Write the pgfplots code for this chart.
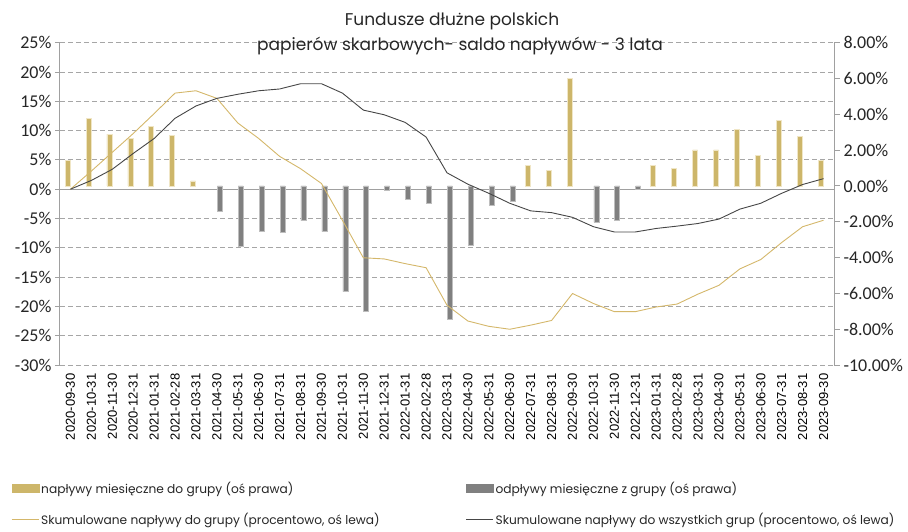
\documentclass[border=0pt]{standalone}
\usepackage{fontspec}
\usepackage{pgfplots}
\pgfplotsset{compat=1.18}
\setmainfont{Poppins}
\newfontfamily\tickfont{Carlito}
\newfontfamily\datefont{Liberation Sans}
\definecolor{goldc}{RGB}{205,182,106}
\definecolor{goldedge}{RGB}{240,230,198}
\definecolor{grayc}{RGB}{128,128,128}
\definecolor{grayedge}{RGB}{190,190,190}
\definecolor{lgold}{RGB}{212,183,106}
\definecolor{lgray}{RGB}{70,70,70}
\definecolor{gridc}{RGB}{166,166,166}
\definecolor{axc}{RGB}{160,160,160}
\begin{document}
\begin{tikzpicture}[x=1pt,y=1pt]
\path[use as bounding box] (0,0) rectangle (908,-532);
\pgfplotsset{
  common/.style={scale only axis, width=774pt, height=322.3pt,
    at={(60pt,-365pt)}, anchor=south west, xmin=-0.5, xmax=36.5},
}
% grid + left axis + dates
\begin{axis}[common, ymin=-30, ymax=25,
  ytick={-30,-25,...,25},
  yticklabels={-30\%,-25\%,-20\%,-15\%,-10\%,-5\%,0\%,5\%,10\%,15\%,20\%,25\%},
  yticklabel style={font=\tickfont\fontsize{18}{18}\selectfont, text=black!85},
  axis y line*=left, axis x line*=bottom,
  x axis line style={draw=none},
  y axis line style={axc, line width=1pt},
  xtick={0,...,36},
  xticklabels={2020-09-30,2020-10-31,2020-11-30,2020-12-31,2021-01-31,2021-02-28,2021-03-31,2021-04-30,2021-05-31,2021-06-30,2021-07-31,2021-08-31,2021-09-30,2021-10-31,2021-11-30,2021-12-31,2022-01-31,2022-02-28,2022-03-31,2022-04-30,2022-05-31,2022-06-30,2022-07-31,2022-08-31,2022-09-30,2022-10-31,2022-11-30,2022-12-31,2023-01-31,2023-02-28,2023-03-31,2023-04-30,2023-05-31,2023-06-30,2023-07-31,2023-08-31,2023-09-30},
  xticklabel style={rotate=90, anchor=east, font=\datefont\fontsize{13}{13}\selectfont, text=black},
  xtick style={draw=none},
  ytick style={axc, line width=1pt},
  tick align=outside, major tick length=5pt,
  ymajorgrids, major grid style={gridc, line width=0.9pt, dash pattern=on 5pt off 3pt},
  extra y ticks={0}, extra y tick labels={},
  extra y tick style={grid=major, major grid style={axc, solid, line width=1.2pt}, tick style={draw=none}},
]
\end{axis}
% bars on right axis
\begin{axis}[common, ymin=-10, ymax=8,
  ytick={-10,-8,...,8},
  yticklabels={-10.00\%,-8.00\%,-6.00\%,-4.00\%,-2.00\%,0.00\%,2.00\%,4.00\%,6.00\%,8.00\%},
  yticklabel style={font=\tickfont\fontsize{18}{18}\selectfont, text=black!85},
  axis y line*=right, hide x axis,
  y axis line style={axc, line width=1pt},
  ytick style={axc, line width=1pt},
  tick align=outside, major tick length=6pt,
]
\addplot[ybar, bar width=5pt, bar shift=-2.8pt, fill=goldc, draw=goldedge, line width=0.8pt] coordinates {
(0,1.40) (1,3.78) (2,2.89) (3,2.66) (4,3.34) (5,2.81) (6,0.28)
(22,1.12) (23,0.89) (24,6.02)
(28,1.12) (29,0.97) (30,2.01) (31,2.01) (32,3.18) (33,1.71) (34,3.65) (35,2.76) (36,1.41)};
\addplot[ybar, bar width=5pt, bar shift=2.9pt, fill=grayc, draw=grayedge, line width=0.6pt] coordinates {
(7,-1.43) (8,-3.35) (9,-2.55) (10,-2.61) (11,-1.94) (12,-2.55) (13,-5.90) (14,-7.02)
(15,-0.26) (16,-0.74) (17,-0.97) (18,-7.45) (19,-3.30) (20,-1.06) (21,-0.84)
(25,-2.03) (26,-1.90) (27,-0.17)};
\end{axis}
% lines on left axis
\begin{axis}[common, ymin=-30, ymax=25, hide axis]
\addplot[lgold, line width=0.9pt, mark=none] coordinates {
(0,0) (1,3.1) (2,6.3) (3,9.5) (4,12.9) (5,16.4) (6,16.8) (7,15.5) (8,11.3) (9,8.65)
(10,5.6) (11,3.5) (12,0.97) (13,-5.3) (14,-11.7) (15,-11.9) (16,-12.7) (17,-13.4)
(18,-19.8) (19,-22.5) (20,-23.4) (21,-23.9) (22,-23.2) (23,-22.4) (24,-17.8) (25,-19.5)
(26,-20.9) (27,-20.9) (28,-20.1) (29,-19.6) (30,-17.9) (31,-16.4) (32,-13.6) (33,-12.0)
(34,-9.1) (35,-6.4) (36,-5.3)};
\addplot[lgray, line width=0.9pt, mark=none] coordinates {
(0,0) (1,1.5) (2,3.4) (3,6.1) (4,8.65) (5,12.1) (6,14.2) (7,15.5) (8,16.2) (9,16.8)
(10,17.1) (11,18.0) (12,18.0) (13,16.4) (14,13.5) (15,12.7) (16,11.4) (17,8.9)
(18,2.8) (19,0.85) (20,-0.7) (21,-2.4) (22,-3.7) (23,-4.0) (24,-4.8) (25,-6.4)
(26,-7.3) (27,-7.3) (28,-6.7) (29,-6.3) (30,-5.85) (31,-5.1) (32,-3.4) (33,-2.4)
(34,-0.7) (35,0.8) (36,1.8)};
\end{axis}
\begin{axis}[common, ymin=-30, ymax=25, hide axis,
  legend columns=2,
  legend style={at={(-0.0633,-0.355)}, anchor=north west, draw=none, fill=none,
    font=\fontsize{12.2}{14}\selectfont, text=black!85,
    /tikz/every even column/.append style={column sep=84pt},
    row sep=15pt, inner sep=0pt,
    nodes={inner xsep=2pt}},
  legend cell align=left,
]
\addlegendimage{legend image code/.code={\fill[goldc] (0pt,-4pt) rectangle (27pt,4pt);}}
\addlegendentry{napływy miesięczne do grupy (oś prawa)}
\addlegendimage{legend image code/.code={\fill[grayc] (0pt,-4pt) rectangle (27pt,4pt);}}
\addlegendentry{odpływy miesięczne z grupy (oś prawa)}
\addlegendimage{legend image code/.code={\draw[lgold, line width=1pt] (0pt,0pt) -- (27pt,0pt);}}
\addlegendentry{Skumulowane napływy do grupy (procentowo, oś lewa)}
\addlegendimage{legend image code/.code={\draw[lgray, line width=1pt] (0pt,0pt) -- (27pt,0pt);}}
\addlegendentry{Skumulowane napływy do wszystkich grup (procentowo, oś lewa)}
\end{axis}
\node[font=\fontsize{17}{20}\selectfont, text=black!85] at (452,-21) {Fundusze dłużne polskich};
\node[font=\fontsize{17}{20}\selectfont, text=black!85] at (460,-46) {papierów skarbowych- saldo napływów - 3 lata};
\end{tikzpicture}
\end{document}
